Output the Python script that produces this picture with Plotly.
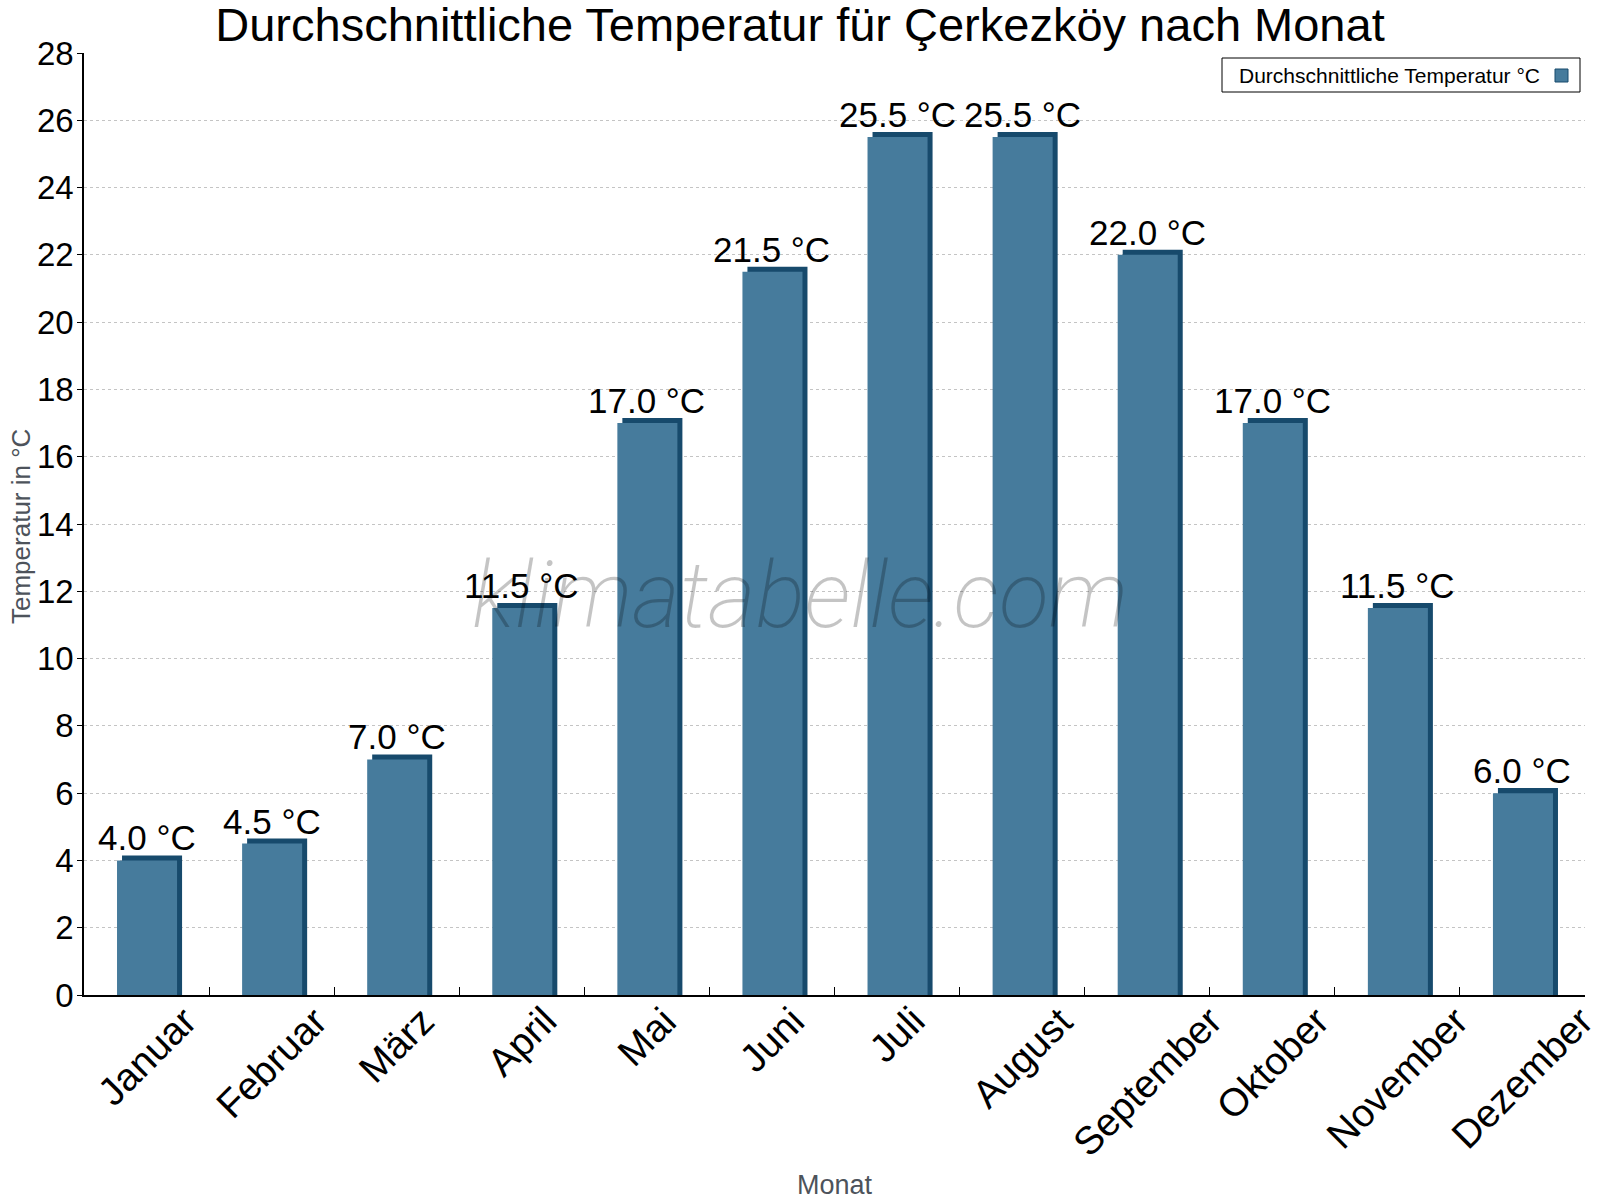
import plotly.graph_objects as go

months = ["Januar", "Februar", "März", "April", "Mai", "Juni", "Juli",
          "August", "September", "Oktober", "November", "Dezember"]
temps = [4.0, 4.5, 7.0, 11.5, 17.0, 21.5, 25.5, 25.5, 22.0, 17.0, 11.5, 6.0]
y_ticks = list(range(0, 29, 2))

FACE = "#467B9C"
DARK = "#174A6C"
FONT = "Liberation Sans, Arial, sans-serif"
DEPTH = 0.15  # y-units depth of the pseudo-3D top

W, H = 1600, 1200
ML, MR, MT, MB = 84, 15, 53, 205
PW = W - ML - MR
PH = H - MT - MB

fig = go.Figure()
# dark "3D" back bar
fig.add_trace(go.Bar(
    x=months, y=[t + DEPTH for t in temps], width=0.48, offset=-0.196,
    marker=dict(color=DARK, line=dict(width=0)), showlegend=False, hoverinfo="skip"))
# front face
fig.add_trace(go.Bar(
    x=months, y=temps, width=0.48, offset=-0.236,
    marker=dict(color=FACE, line=dict(width=0)), name="Durchschnittliche Temperatur °C",
    showlegend=False))

annotations = []
# value labels
for m, t in zip(months, temps):
    annotations.append(dict(x=m, y=t + DEPTH, xref="x", yref="y", text=f"{t:.1f} °C",
                            showarrow=False, xanchor="center", yanchor="bottom", yshift=-4,
                            font=dict(family=FONT, size=35, color="black")))
# rotated month labels
for m in months:
    annotations.append(dict(x=m, y=0, xref="x", yref="paper", text=m, textangle=-45,
                            showarrow=False, xanchor="center", yanchor="top", yshift=-1,
                            font=dict(family=FONT, size=39, color="black")))
# axis titles
annotations.append(dict(x=0, y=0.5, xref="paper", yref="paper", text="Temperatur in °C",
                        textangle=-90, showarrow=False, xanchor="center", yanchor="middle",
                        xshift=-63, yshift=-3, font=dict(family=FONT, size=26, color="#4d535b")))
annotations.append(dict(x=0.5, y=0, xref="paper", yref="paper", text="Monat",
                        showarrow=False, xanchor="center", yanchor="middle",
                        yshift=-190, font=dict(family=FONT, size=27, color="#4d535b")))
# legend text
annotations.append(dict(x=(1542 - ML) / PW, y=(H - MB - 75) / PH, xref="paper", yref="paper",
                        text="Durchschnittliche Temperatur °C", showarrow=False,
                        xanchor="right", yanchor="middle",
                        font=dict(family=FONT, size=21, color="black")))
# watermark
annotations.append(dict(x=(800 - ML) / PW, y=(H - MB - 595) / PH, xref="paper", yref="paper",
                        text="klimatabelle.com", showarrow=False, xanchor="center",
                        yanchor="middle",
                        font=dict(family="Roboto", size=92, color="rgba(0,0,0,0.23)",
                                  style="italic", weight=200)))

shapes = [
    dict(type="rect", xref="paper", yref="paper",
         x0=(1222 - ML) / PW, x1=(1580 - ML) / PW,
         y0=(H - MB - 92) / PH, y1=(H - MB - 58) / PH,
         line=dict(color="black", width=1), fillcolor="white", layer="above"),
    dict(type="rect", xref="paper", yref="paper",
         x0=(1555 - ML) / PW, x1=(1568 - ML) / PW,
         y0=(H - MB - 82) / PH, y1=(H - MB - 69) / PH,
         line=dict(color=DARK, width=1), fillcolor=FACE, layer="above"),
]

fig.update_layout(
    width=W, height=H,
    margin=dict(l=ML, r=MR, t=MT, b=MB),
    paper_bgcolor="white", plot_bgcolor="white",
    barmode="overlay",
    title=dict(text="Durchschnittliche Temperatur für Çerkezköy nach Monat",
               x=0.5, xref="container", xanchor="center",
               y=1 - 25 / H, yref="container", yanchor="middle",
               font=dict(family=FONT, size=47, color="black")),
    annotations=annotations,
    shapes=shapes,
    showlegend=False,
)
fig.update_xaxes(type="category", showline=True, linecolor="black", linewidth=1.5,
                 ticks="inside", tickson="boundaries", ticklen=8, tickcolor="black",
                 showticklabels=False, showgrid=False, range=[-0.5, 11.5])
fig.update_yaxes(range=[0, 28], tickvals=y_ticks, showline=True, linecolor="black",
                 linewidth=1.5, ticks="outside", ticklen=5, tickcolor="black",
                 ticklabelstandoff=-3,
                 tickfont=dict(family=FONT, size=33, color="black"),
                 showgrid=True, gridcolor="#c4c4c4", griddash="dot", gridwidth=1,
                 zeroline=False)

fig.write_html("out.html")
